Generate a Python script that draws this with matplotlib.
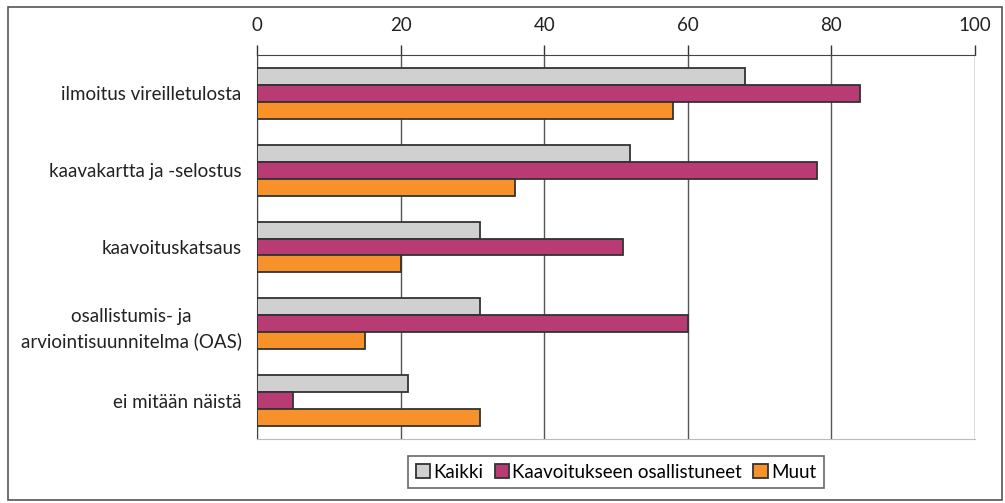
import matplotlib.pyplot as plt
import numpy as np
from matplotlib.patches import Rectangle

# Data
categories = ["ilmoitus vireilletulosta", "kaavakartta ja -selostus", "kaavoituskatsaus",
              "osallistumis- ja\narviointisuunnitelma (OAS)", "ei mitään näistä"]
kaikki = [68, 52, 31, 31, 21]
osallistuneet = [84, 78, 51, 60, 5]
muut = [58, 36, 20, 15, 31]
series_names = ["Kaikki", "Kaavoitukseen osallistuneet", "Muut"]
colors = ["#D0D0D0", "#B83B73", "#F7922A"]

plt.rcParams['font.family'] = ['Lato', 'DejaVu Sans']

fig = plt.figure(figsize=(10.05, 5.03), dpi=100)
ax = fig.add_axes([257 / 1005, 1 - 439 / 503, (975 - 257) / 1005, (439 - 55) / 503])

# outer frame around the whole picture
fig.patches.append(Rectangle((8 / 1005, 3 / 503), 994 / 1005, 493 / 503, transform=fig.transFigure,
                             fill=False, edgecolor="#555555", linewidth=1.2))

y = np.arange(len(categories))
h = 0.22
for i, (vals, name, c) in enumerate(zip([kaikki, osallistuneet, muut], series_names, colors)):
    ax.barh(y + (i - 1) * h, vals, height=h, color=c, edgecolor="#333333", linewidth=1.3,
            label=name, zorder=3)

ax.set_xlim(0, 100)
ax.set_ylim(len(categories) - 0.5, -0.5)
ax.set_xticks([0, 20, 40, 60, 80, 100])
ax.xaxis.tick_top()
ax.tick_params(axis='x', length=7, width=1, color="#333333", labelsize=13.5, pad=8,
               labelcolor="#222222")
ax.set_yticks(y)
ax.set_yticklabels(categories, fontsize=13.5, color="#222222", linespacing=1.5)
ax.tick_params(axis='y', length=0, pad=11)
for lab in ax.get_yticklabels():
    lab.set_horizontalalignment('right')
    lab.set_multialignment('center')

ax.grid(axis='x', color="#555555", linewidth=1, zorder=0)
ax.spines['right'].set_visible(False)
ax.spines['top'].set_color("#444444")
ax.spines['left'].set_color("#444444")
ax.spines['bottom'].set_color("#BBBBBB")

leg = fig.legend(loc='center', bbox_to_anchor=(616 / 1005, 1 - 472 / 503), ncol=3, fontsize=13.5,
                 frameon=True, fancybox=False, handlelength=0.75, handleheight=0.75,
                 handletextpad=0.2, columnspacing=0.6, borderpad=0.4)
leg.get_frame().set_edgecolor("#444444")
leg.get_frame().set_linewidth(1.2)

plt.savefig("out.png", dpi=100)
